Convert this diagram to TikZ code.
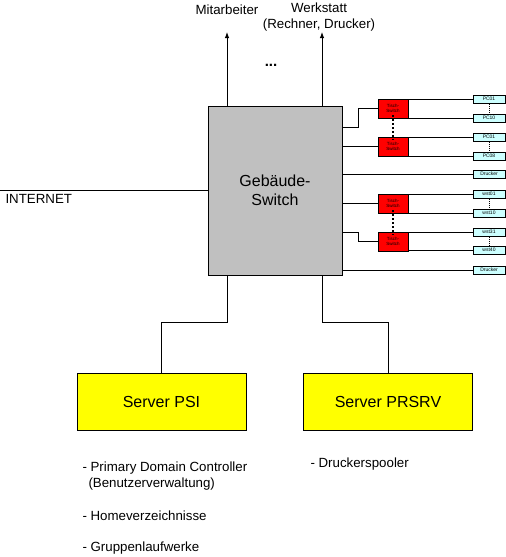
\documentclass[tikz,border=0pt]{standalone}
\usepackage{fontspec}
\setmainfont{Liberation Sans}
\usetikzlibrary{arrows.meta}
\definecolor{swgray}{RGB}{192,192,192}
\definecolor{lcyan}{RGB}{204,255,255}
\definecolor{yel}{RGB}{255,255,0}
\definecolor{red1}{RGB}{255,0,0}
\begin{document}
\begin{tikzpicture}[x=1pt,y=-1pt,line width=1pt,
  lbl/.style={font=\fontsize{13.3}{16}\selectfont,inner sep=0pt},
  bigbox/.style={draw,minimum width=169pt,minimum height=57pt,fill=yel,font=\fontsize{16}{19}\selectfont,inner sep=0pt},
  tisch/.style={draw,fill=red1,minimum width=30pt,minimum height=19pt,inner sep=0pt,align=center,font=\fontsize{4.5}{5.5}\selectfont},
  pcbox/.style={draw,fill=lcyan,minimum width=32pt,minimum height=8pt,inner sep=0pt,font=\fontsize{5}{6}\selectfont},
  arr/.style={-{Latex[length=6pt,width=4.5pt]}},
  bigdots/.style={line width=2.5pt,dash pattern=on 2.2pt off 1.8pt},
  smalldots/.style={line width=1pt,dash pattern=on 1pt off 1pt}]
\useasboundingbox (0,0) rectangle (506,557);

% main switch
\node[draw,fill=swgray,minimum width=134pt,minimum height=169pt,inner sep=0pt,align=center,
  font=\fontsize{16}{19}\selectfont] (sw) at (275,190.5) {Gebäude-\\Switch};

% top labels and arrows
\node[lbl] (mit) at (227,10) {Mitarbeiter};
\node[lbl,align=center] (werk) at (319,17.5) {Werkstatt\\(Rechner, Drucker)};
\node[font=\fontsize{15}{18}\selectfont\bfseries,inner sep=0pt] (dots) at (271,65) {...};
\coordinate (a1) at (227,32);
\coordinate (a2) at (322,32);
\draw[arr] (sw.north -| a1) -- (a1);
\draw[arr] (sw.north -| a2) -- (a2);

% internet
\coordinate (inet) at (0,190.5);
\draw (inet) -- (sw.west |- inet);
\node[lbl,anchor=west] (intxt) at (5,198.5) {INTERNET};

% tisch switches
\node[tisch] (r1) at (393,108.5) {Tisch-\\Switch};
\node[tisch] (r2) at (393,146.5) {Tisch-\\Switch};
\node[tisch] (r3) at (393,203.5) {Tisch-\\Switch};
\node[tisch] (r4) at (393,241.5) {Tisch-\\Switch};

% pc boxes
\node[pcbox] (p1) at (489,99) {PC01};
\node[pcbox] (p2) at (489,118) {PC10};
\node[pcbox] (p3) at (489,137) {PC01};
\node[pcbox] (p4) at (489,156) {PC08};
\node[pcbox] (d1) at (489,174) {Drucker};
\node[pcbox] (w1) at (489,194) {wst01};
\node[pcbox] (w2) at (489,213) {wst10};
\node[pcbox] (w3) at (489,232) {wst31};
\node[pcbox] (w4) at (489,250) {wst40};
\node[pcbox] (d2) at (489,270) {Drucker};

% switch to tisch switches
\coordinate (j1) at (342,127);
\coordinate (j5) at (342,232);
\draw (r1.west) -- ++(-19,0) |- (j1);
\draw (sw.east |- r2) -- (r2.west);
\draw (sw.east |- d1) -- (d1.west);
\draw (sw.east |- r3) -- (r3.west);
\draw (r4.west) -- ++(-19,0) |- (j5);
\draw (sw.east |- d2) -- (d2.west);

% tisch to pcs
\foreach \r/\a/\b in {r1/p1/p2,r2/p3/p4,r3/w1/w2,r4/w3/w4}{
  \draw (\a.west -| \r.east) -- (\a.west);
  \draw (\b.west -| \r.east) -- (\b.west);
  \draw[smalldots] (\a.south) -- (\b.north);
}
\draw[bigdots] ([yshift=3.5pt]r1.south) -- ([yshift=-3.5pt]r2.north);
\draw[bigdots] ([yshift=3.5pt]r3.south) -- ([yshift=-3.5pt]r4.north);

% servers
\node[bigbox] (psi) at (161.5,401.5) {Server PSI};
\node[bigbox] (prs) at (388,401.5) {Server PRSRV};
\coordinate (b1) at (227,275);
\coordinate (b2) at (322,275);
\draw (b1) -- ++(0,47) -| (psi.north);
\draw (b2) -- ++(0,47) -| (prs.north);

% notes
\node[lbl,anchor=west] (n1) at (82,468) {- Primary Domain Controller};
\node[lbl,anchor=west] (n2) at (88,484) {(Benutzerverwaltung)};
\node[lbl,anchor=west] (n3) at (82,516) {- Homeverzeichnisse};
\node[lbl,anchor=west] (n4) at (82,548) {- Gruppenlaufwerke};
\node[lbl,anchor=west] (n5) at (310,464) {- Druckerspooler};
\end{tikzpicture}
\end{document}
